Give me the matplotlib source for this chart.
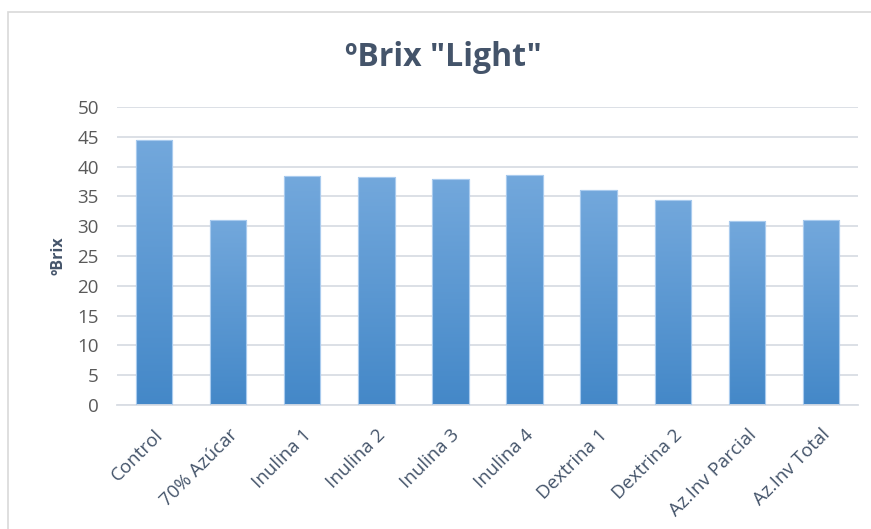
import numpy as np
import matplotlib
matplotlib.use("Agg")
import matplotlib.pyplot as plt
import matplotlib.patches as mpatches
from matplotlib.colors import LinearSegmentedColormap

categorias = ["Control", "70% Azúcar", "Inulina 1", "Inulina 2", "Inulina 3",
              "Inulina 4", "Dextrina 1", "Dextrina 2", "Az.Inv Parcial", "Az.Inv Total"]
brix = [44.5, 31.1, 38.4, 38.2, 38.0, 38.6, 36.0, 34.4, 30.9, 31.0]
yticks = list(range(0, 51, 5))

plt.rcParams['font.family'] = ['Open Sans', 'DejaVu Sans']

fig = plt.figure(figsize=(8.71, 5.29), dpi=100)
ax = fig.add_axes([117 / 871, 1 - 405 / 529, 741 / 871, 298 / 529])

x = np.arange(len(categorias))
barras = ax.bar(x, brix, width=0.49, color="#5b9bd5", edgecolor="#a9cbee",
                linewidth=0.8, zorder=2)

# degradado vertical de cada barra
cmap = LinearSegmentedColormap.from_list("grad", ["#4488c8", "#73a8dc"])
grad = np.linspace(0, 1, 256).reshape(-1, 1)
for b in barras:
    x0, w, h = b.get_x(), b.get_width(), b.get_height()
    im = ax.imshow(grad, extent=(x0, x0 + w, 0, h), origin="lower", cmap=cmap,
                   aspect="auto", zorder=2.5)
    im.set_clip_path(b)
    ax.add_patch(mpatches.Rectangle((x0, 0), w, h, fill=False,
                                    edgecolor="#a9cbee", linewidth=0.8, zorder=3))

ax.set_xlim(-0.5, len(categorias) - 0.5)
ax.set_ylim(0, 50)
ax.set_yticks(yticks)
ax.yaxis.grid(True, color="#d9dde4", linewidth=1.3, zorder=0)
ax.set_axisbelow(True)
for s in ["top", "right", "left"]:
    ax.spines[s].set_visible(False)
ax.spines["bottom"].set_color("#d9dde4")
ax.spines["bottom"].set_linewidth(1.3)
ax.tick_params(axis="both", length=0, colors="#595959")
ax.tick_params(axis="y", pad=13, labelsize=13.5)
ax.tick_params(axis="x", pad=15)
ax.set_xticks(x)
ax.set_xticklabels(categorias, rotation=45, ha="right", rotation_mode="anchor",
                   fontsize=13.5, color="#44546a")
ax.set_ylabel("ºBrix", fontsize=11.5, fontweight="bold", color="#44546a", labelpad=8)

fig.text(443 / 871, 1 - 57 / 529, 'ºBrix "Light"', ha="center", va="center",
         fontsize=23, fontweight="bold", color="#44546a")

fig.patches.append(mpatches.Rectangle((8 / 871, -0.01), 1.0, 1 - 12 / 529 + 0.01,
                                      transform=fig.transFigure, fill=False,
                                      edgecolor="#d9d9d9", linewidth=1.2))

fig.savefig("out.png", dpi=100)
